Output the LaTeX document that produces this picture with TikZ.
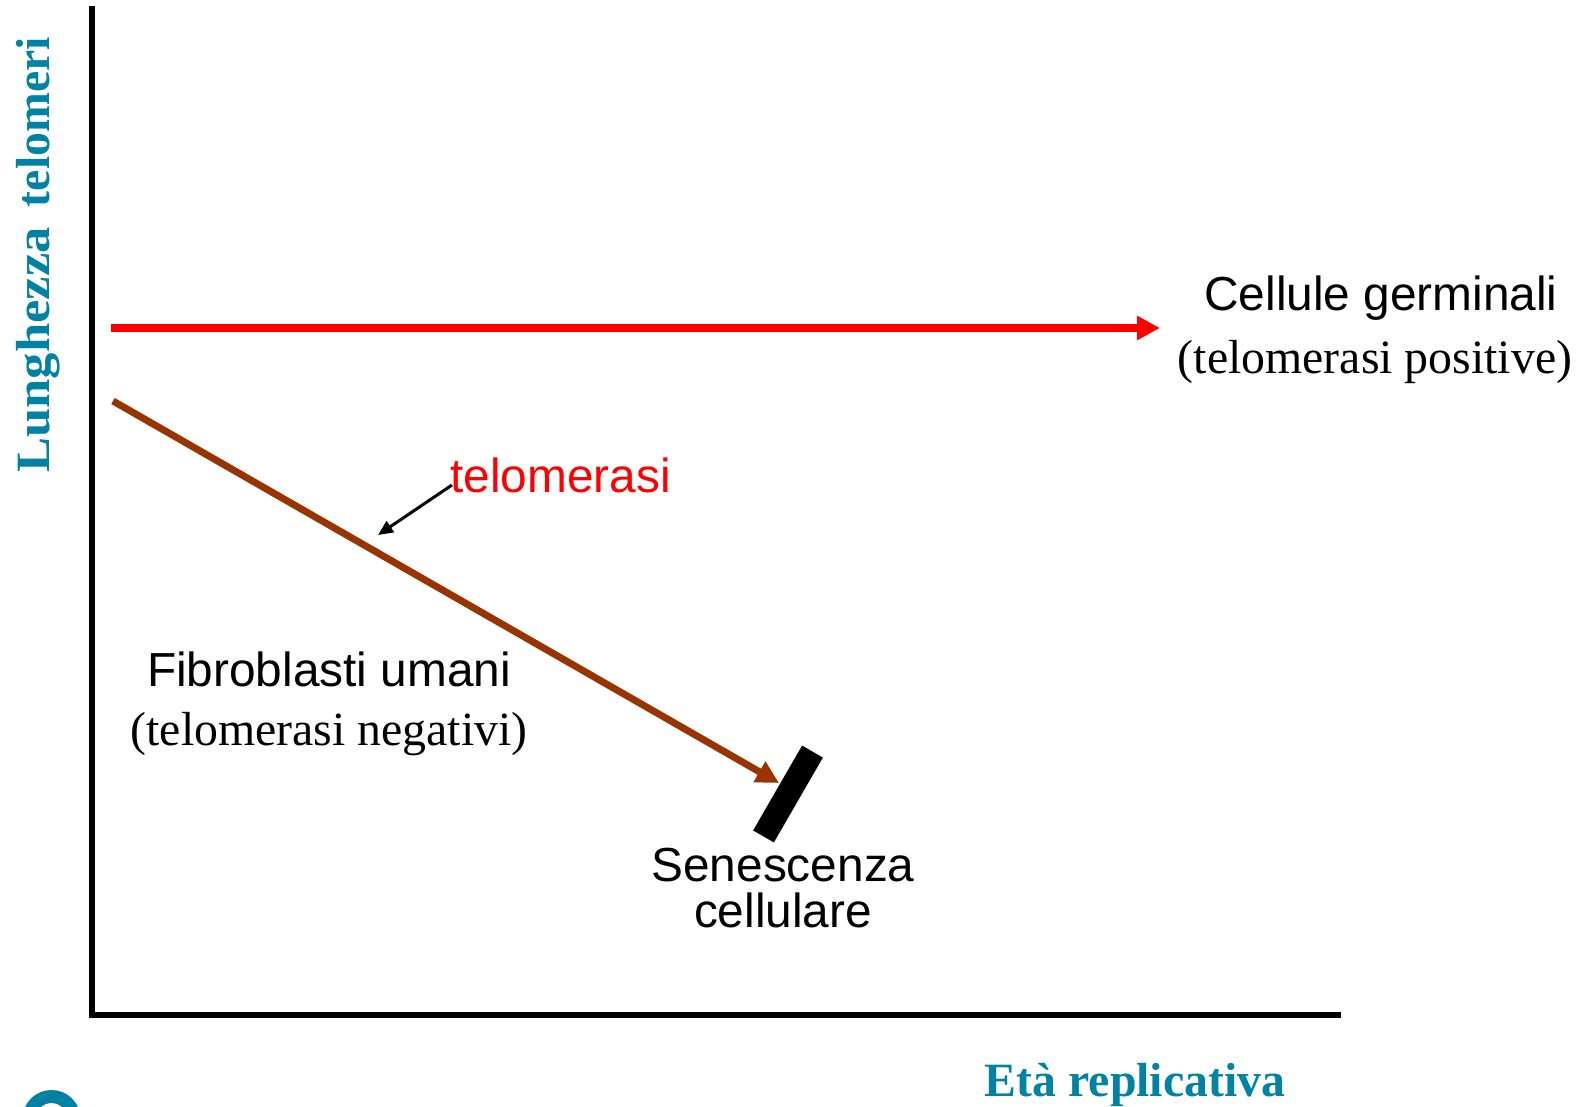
\documentclass[tikz,border=0pt]{standalone}
\usepackage{fontspec}
\setmainfont{Liberation Serif}
\newfontfamily\arialf{Liberation Sans}
\usetikzlibrary{arrows.meta}
\definecolor{tealc}{RGB}{0,130,165}
\definecolor{brownc}{RGB}{153,51,0}
\definecolor{redc}{RGB}{255,0,0}
\begin{document}
\begin{tikzpicture}[x=0.5pt,y=-0.5pt,
  txt/.style={inner sep=0pt,font=\fontsize{23.9}{28}\selectfont},
  sans/.style={txt,font=\fontsize{23.9}{28}\selectfont\arialf},
  axislbl/.style={inner sep=0pt,text=tealc,font=\fontsize{23.9}{28}\selectfont\bfseries},
  axisline/.style={line width=3pt,line cap=rect}
]
\useasboundingbox (0,0) rectangle (1580,1107);
% logo ring (cut off)
\begin{scope}
\clip (0,0) rectangle (1580,1107);
\draw[tealc,line width=6.5pt] (51.5,1119) circle[radius=22.5];
\end{scope}
% axes
\coordinate (ytop) at (92.3,9);
\coordinate (orig) at (92.3,1015);
\coordinate (xend) at (1338,1015);
\draw[axisline] (ytop) -- (orig) -- (xend);
% axis labels
\node[axislbl,rotate=90,anchor=base west] (ylab) at (49,473) {\scalebox{1.1}[1]{Lunghezza}\hspace{0.42em}telomeri};
\node[axislbl,anchor=base] (xlab) at (1135,1096) {Età replicativa};
% red arrow
\coordinate (rs) at (111,328);
\coordinate (re) at (1160,328);
\draw[redc,line width=3.8pt,-{Triangle[length=11.5pt,width=11.5pt]}] (rs) -- (re);
% brown arrow
\coordinate (bs) at (113,401);
\coordinate (be) at (779,783);
\draw[brownc,line width=3.5pt,-{Triangle[length=11.3pt,width=11.3pt]}] (bs) -- (be);
% senescence bar
\node[fill=black,inner sep=0pt,minimum width=49pt,minimum height=12pt,rotate=60] (bar) at (788,794) {};
% texts
\node[sans,anchor=base] (cg) at (1381,311) {Cellule germinali};
\node[txt,anchor=base] (tp) at (1375,373) {(telomerasi positive)};
\node[sans,anchor=base west,text=redc] (tel) at (450,492) {telomerasi};
\coordinate (tarr) at (452,485);
\coordinate (tend) at (378,535);
\draw[line width=1.5pt,-{Triangle[length=7.5pt,width=6.5pt]}] (tarr) -- (tend);
\node[sans,anchor=base] (fu) at (329,686) {Fibroblasti umani};
\node[txt,anchor=base] (tn) at (329,745) {(telomerasi negativi)};
\node[sans,anchor=base] (sen) at (783,881) {Senescenza};
\node[sans,anchor=base] (cel) at (783,927) {cellulare};
\end{tikzpicture}
\end{document}
